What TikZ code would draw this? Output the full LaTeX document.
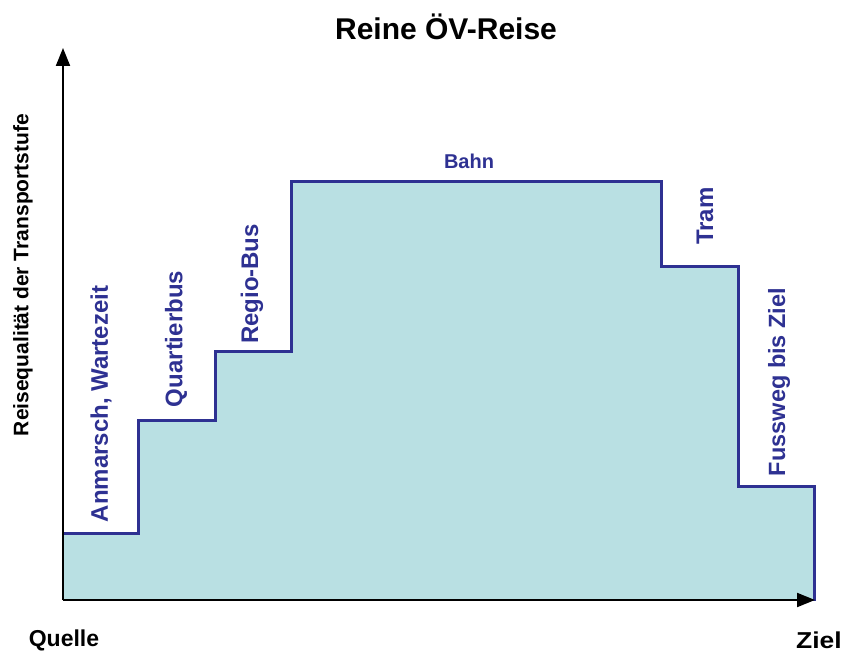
\documentclass[tikz,border=0pt]{standalone}
\usepackage{fontspec}
\setmainfont{Liberation Sans}
\usetikzlibrary{arrows.meta}
\definecolor{stepblue}{HTML}{2E3192}
\definecolor{stepfill}{HTML}{B9E0E3}
\tikzset{
  axis/.style={line width=2pt,-{Triangle[length=18pt,width=14pt]}},
  stepline/.style={draw=stepblue,line width=3pt,line join=miter},
  lbl/.style={font=\bfseries\fontsize{24}{24}\selectfont,text=stepblue,inner sep=0pt},
  blk/.style={font=\bfseries\fontsize{23}{23}\selectfont,text=black,inner sep=0pt},
}
\begin{document}
\begin{tikzpicture}[x=1pt,y=-1pt]
\useasboundingbox (0,0) rectangle (841,652);
\coordinate (o) at (63,600);
\coordinate (ytip) at (63,48);
\coordinate (xtip) at (815,600);
\fill[stepfill] (63,533) -- (138,533) -- (138,420) -- (215,420) -- (215,352) -- (291,352) -- (291,182) -- (661,182) -- (661,267) -- (738,267) -- (738,486) -- (814,486) -- (814,600) -- (63,600) -- cycle;
\draw[stepline] (63,533) -- (138,533) -- (138,420) -- (215,420) -- (215,352) -- (291,352) -- (291,182) -- (661,182) -- (661,267) -- (738,267) -- (738,486) -- (814,486) -- (814,601);
\draw[axis] (o) -- (ytip);
\draw[axis] (o) -- (xtip);
\node[blk,font=\bfseries\fontsize{30}{30}\selectfont] (title) at (446,27) {Reine ÖV-Reise};
\node[blk,font=\bfseries\fontsize{21}{21}\selectfont,rotate=90] (ylab) at (23,275) {Reisequalität der Transportstufe};
\node[blk] (quelle) at (64,640) {Quelle};
\node[blk,xscale=1.15] (ziel) at (819,640) {Ziel};
\node[lbl,font=\bfseries\fontsize{20}{20}\selectfont] (bahn) at (469,161) {Bahn};
\node[lbl,rotate=90] (anm) at (101,404) {Anmarsch, Wartezeit};
\node[lbl,rotate=90] (quart) at (176,339) {Quartierbus};
\node[lbl,rotate=90] (regio) at (252,284) {Regio-Bus};
\node[lbl,rotate=90] (tram) at (705,216) {Tram};
\node[lbl,font=\bfseries\fontsize{23.5}{23.5}\selectfont,rotate=90] (fuss) at (779,382) {Fussweg bis Ziel};
\end{tikzpicture}
\end{document}
